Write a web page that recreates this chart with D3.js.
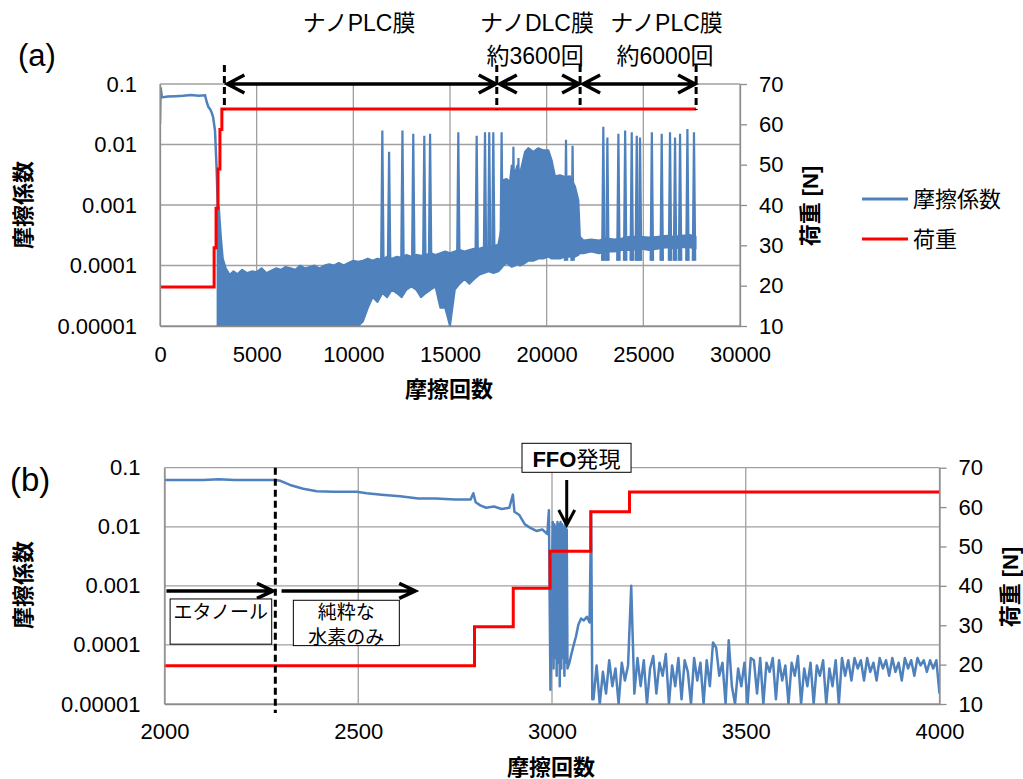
<!DOCTYPE html>
<html>
<head>
<meta charset="utf-8">
<script src="https://cdn.jsdelivr.net/npm/d3@7"></script>
<style>
body { margin: 0; background: #fff; }
text { font-family: "Liberation Sans", Arial, "Noto Sans CJK JP", sans-serif; fill: #000; }
</style>
</head>
<body>
<div id="chart"></div>
<script>
// ---- data ----
// shared axes
var muTicks = [0.00001, 0.0001, 0.001, 0.01, 0.1];
var muTickLabels = ["0.00001", "0.0001", "0.001", "0.01", "0.1"];
var loadTicks = [10, 20, 30, 40, 50, 60, 70];

// (a) whole test, cycles 0-30000
var aXTicks = [0, 5000, 10000, 15000, 20000, 25000, 30000];
// smooth start of the friction trace [cycles, mu]
var aHead = [[0, 0.022], [30, 0.088], [100, 0.06], [400, 0.062], [800, 0.063], [1200, 0.064], [1600, 0.066],
  [2000, 0.064], [2330, 0.065], [2420, 0.05], [2500, 0.042], [2600, 0.038], [2670, 0.034], [2750, 0.028],
  [2845, 0.017], [2930, 0.0038], [2980, 0.0012], [3020, 0.0003], [3050, 0.0001]];
// noisy part drawn as a band [cycles, low mu, high mu]
var aBand = [[2980, 1e-5, 0.001], [3050, 1e-5, 0.0009], [3150, 1e-5, 0.0003], [3250, 1e-5, 0.00013],
  [3400, 1e-5, 0.00009], [3600, 1e-5, 0.00007], [3800, 1e-5, 0.00008], [4000, 1e-5, 0.000072],
  [4250, 1e-5, 0.000085], [4500, 1e-5, 0.000075], [4750, 1e-5, 0.00008], [5000, 1e-5, 0.000078],
  [5250, 1e-5, 0.00009], [5500, 1e-5, 0.000075], [5750, 1e-5, 0.000082], [6000, 1e-5, 0.00009],
  [6250, 1e-5, 0.000085], [6500, 1e-5, 0.000095], [6750, 1e-5, 0.00009], [7000, 1e-5, 0.000085],
  [7250, 1e-5, 0.0001], [7500, 1e-5, 0.00009], [7750, 1e-5, 0.000095], [8000, 1e-5, 0.0001],
  [8250, 1e-5, 0.00009], [8500, 1e-5, 0.0001], [8750, 1e-5, 0.000105], [9000, 1e-5, 0.0001],
  [9250, 1e-5, 0.00011], [9500, 1e-5, 0.0001], [9750, 1e-5, 0.00011], [10000, 1e-5, 0.00012],
  [10250, 1e-5, 0.000115], [10500, 1.2e-5, 0.00012], [10750, 2e-5, 0.00013], [11000, 3e-5, 0.00012],
  [11250, 2.5e-5, 0.00013], [11500, 3.5e-5, 0.000125], [11750, 3e-5, 0.00014], [12000, 4e-5, 0.00013],
  [12250, 3.5e-5, 0.00014], [12500, 3e-5, 0.000135], [12750, 4e-5, 0.00015], [13000, 4.5e-5, 0.00014],
  [13250, 4e-5, 0.00015], [13500, 3e-5, 0.000145], [13750, 3.5e-5, 0.00015], [14000, 4e-5, 0.00016],
  [14250, 4.5e-5, 0.00015], [14500, 2e-5, 0.00016], [14750, 2e-5, 0.00017], [15000, 1e-5, 0.00016],
  [15250, 4e-5, 0.00017], [15500, 5e-5, 0.00018], [15750, 6e-5, 0.00017], [16000, 5e-5, 0.00018],
  [16250, 6e-5, 0.00019], [16500, 7e-5, 0.00019], [16750, 7.5e-5, 0.0002], [17000, 8e-5, 0.0002],
  [17250, 7.5e-5, 0.00021], [17500, 8e-5, 0.00022], [17650, 9e-5, 0.0004], [17760, 0.0001, 0.0026],
  [17930, 0.00011, 0.0027], [18100, 0.0001, 0.0024], [18190, 0.000095, 0.0045], [18360, 0.0001, 0.0033],
  [18480, 0.000105, 0.0045], [18620, 0.0001, 0.0033], [18880, 0.00011, 0.0076], [19050, 0.00012, 0.0087],
  [19310, 0.00012, 0.0076], [19570, 0.00013, 0.0087], [19830, 0.00013, 0.008], [20090, 0.00014, 0.008],
  [20260, 0.00013, 0.0055], [20430, 0.00013, 0.003], [20690, 0.00013, 0.0031], [20950, 0.00014, 0.0029],
  [21210, 0.00014, 0.003], [21470, 0.00014, 0.002], [21640, 0.00015, 0.0012], [21720, 0.00016, 0.0003],
  [21900, 0.00016, 0.00026], [22300, 0.00017, 0.00027], [22700, 0.00016, 0.00026], [23100, 0.00017, 0.00028],
  [23500, 0.00017, 0.00027], [23900, 0.00018, 0.00028], [24300, 0.00018, 0.0003], [24830, 0.00019, 0.0003],
  [25300, 0.00018, 0.00029], [25800, 0.00019, 0.0003], [26200, 0.0002, 0.00031], [26550, 0.00019, 0.0003],
  [27000, 0.0002, 0.00031], [27400, 0.0002, 0.00032], [27700, 0.00019, 0.0003]];
// isolated friction spikes [cycles, peak mu]
var aSpikes = [[11500, 0.017], [11850, 0.0076], [12540, 0.017], [13100, 0.015], [13670, 0.014], [13970, 0.015],
  [15430, 0.016], [16380, 0.014], [16810, 0.016], [17030, 0.016], [17240, 0.016], [17670, 0.016],
  [18280, 0.0092], [18540, 0.006], [21000, 0.012], [21340, 0.0095], [22930, 0.0197], [23140, 0.013],
  [23710, 0.015], [24060, 0.017], [24400, 0.016], [24660, 0.014], [24830, 0.013], [25440, 0.016],
  [25950, 0.015], [26380, 0.016], [26640, 0.013], [26900, 0.015], [27280, 0.018], [27620, 0.016]];
// load steps [cycles, N]
var aLoad = [[0, 19.7], [2800, 29.4], [2900, 39.2], [3000, 48.9], [3100, 58.7], [3200, 63.8], [27730, 63.8]];
// film boundaries (dashed lines) and labels, label centres in cycles
var aBounds = [3330, 17420, 21730, 27730];
var aFilmLabels = ["ナノPLC膜", "ナノDLC膜", "ナノPLC膜"];
var aFilmLabelAt = [10300, 19500, 26200];
var aCountLabels = ["約3600回", "約6000回"];
var aCountLabelAt = [19400, 26120];

// (b) zoom on 2000-4000 cycles
var bXTicks = [2000, 2500, 3000, 3500, 4000];
var bHead = [[2000, 0.062], [2100, 0.062], [2140, 0.064], [2180, 0.062], [2286, 0.062], [2299, 0.06],
  [2324, 0.051], [2358, 0.044], [2393, 0.040], [2436, 0.039], [2496, 0.039], [2522, 0.037], [2560, 0.035],
  [2608, 0.033], [2655, 0.030], [2700, 0.030], [2750, 0.029], [2790, 0.029], [2797, 0.037], [2803, 0.026],
  [2815, 0.023], [2830, 0.021], [2850, 0.022], [2870, 0.020], [2890, 0.021], [2899, 0.035], [2903, 0.018],
  [2915, 0.016], [2930, 0.011], [2945, 0.0095], [2960, 0.0085], [2975, 0.009], [2988, 0.0075], [2992, 0.019],
  [2996, 0.0000175], [2999, 0.0004], [3002, 0.012], [3004, 0.00004], [3006, 0.011], [3008, 0.00006],
  [3010, 0.01], [3012, 0.00003], [3014, 0.012], [3016, 0.00005], [3018, 0.011], [3020, 0.00002],
  [3022, 0.012], [3024, 0.00004], [3026, 0.011], [3028, 0.00006], [3030, 0.01], [3032, 0.00003],
  [3034, 0.011], [3036, 0.00005], [3038, 0.009], [3040, 0.00004], [3045, 0.00005], [3050, 0.00007],
  [3056, 0.0001], [3062, 0.00014], [3068, 0.00022], [3075, 0.00028], [3082, 0.00026], [3090, 0.0003],
  [3097, 0.00024], [3101, 0.018], [3104, 0.000012]];
// after 3107 cycles the trace is sampled evenly up to 4000
var bNoiseStart = 3107, bNoiseEnd = 4000;
var bNoise = [1.2e-5, 4.5e-5, 1.0e-5, 3.5e-5, 1.5e-5, 5.5e-5, 2.0e-5, 4.0e-5, 1.0e-5, 5.0e-5, 2.5e-5, 4.5e-5,
  1.0e-3,
  1.5e-5, 6.0e-5, 2.0e-5, 5.5e-5, 1.0e-5, 4.0e-5, 6.5e-5, 1.5e-5, 5.0e-5, 3.0e-5, 7.0e-5, 1.0e-5, 4.5e-5,
  2.0e-5, 6.0e-5, 1.2e-5, 5.5e-5, 3.5e-5, 1.0e-5, 6.0e-5, 2.5e-5, 5.0e-5,
  1.0e-5, 5.5e-5, 2.0e-5, 1.1e-4, 9.0e-5, 3.0e-5, 5.0e-5, 1.0e-5, 1.2e-4, 2.0e-5,
  1.0e-5, 4.0e-5, 2.0e-5, 5.0e-5, 1.0e-5, 6.0e-5, 5.5e-5, 1.5e-5, 6.0e-5, 1.0e-5, 5.0e-5, 3.5e-5, 6.0e-5,
  1.2e-5, 5.5e-5, 2.5e-5, 4.5e-5,
  1.0e-5, 5.0e-5, 3.0e-5, 6.5e-5, 1.0e-5, 4.0e-5, 2.0e-5, 5.0e-5, 1.0e-5, 4.5e-5, 3.0e-5, 5.5e-5, 1.0e-5,
  4.0e-5, 2.0e-5, 5.5e-5, 1.0e-5,
  6.0e-5, 3.0e-5, 5.5e-5, 2.5e-5, 6.0e-5, 4.0e-5, 5.5e-5, 2.5e-5, 6.0e-5, 3.5e-5, 5.0e-5, 2.5e-5, 6.0e-5,
  4.0e-5, 5.5e-5, 3.0e-5, 6.0e-5, 3.5e-5, 5.0e-5, 2.5e-5, 6.0e-5, 4.0e-5, 5.5e-5, 3.0e-5, 6.0e-5, 4.5e-5,
  5.5e-5, 3.5e-5, 5.5e-5, 4.0e-5, 5.5e-5, 1.5e-5];
var bLoad = [[2000, 19.7], [2800, 29.6], [2900, 39.4], [2995, 48.8], [3100, 58.8], [3200, 63.8], [4000, 63.8]];
var bSwitch = 2286; // ethanol -> pure hydrogen

var blue = "#4f81bd", red = "#ff0000", gridColor = "#a0a0a0", axisColor = "#8c8c8c";
var font = 22;

var svg = d3.select("#chart").append("svg")
  .attr("width", 1023)
  .attr("height", 779);
svg.append("rect").attr("width", 1023).attr("height", 779).attr("fill", "#fff");

// builds one panel: grid, clip; returns the scales
function makePanel(id, box, xDomain, xTicks) {
  var x = d3.scaleLinear().domain(xDomain).range([box.left, box.right]);
  var y = d3.scaleLog().domain([1e-5, 0.1]).range([box.bottom, box.top]);
  var yR = d3.scaleLinear().domain([10, 70]).range([box.bottom, box.top]);

  svg.append("clipPath").attr("id", id)
    .append("rect")
    .attr("x", box.left).attr("y", box.top)
    .attr("width", box.right - box.left).attr("height", box.bottom - box.top);

  // grid
  svg.append("g").selectAll("line").data(muTicks).enter().append("line")
    .attr("x1", box.left).attr("x2", box.right)
    .attr("y1", d => y(d)).attr("y2", d => y(d))
    .attr("stroke", gridColor).attr("stroke-width", 1.3);
  svg.append("g").selectAll("line").data(xTicks).enter().append("line")
    .attr("x1", d => x(d)).attr("x2", d => x(d))
    .attr("y1", box.top).attr("y2", box.bottom)
    .attr("stroke", gridColor).attr("stroke-width", 1.3);

  return { x: x, y: y, yR: yR, box: box, id: id, xTicks: xTicks };
}

function styleAxis(g) {
  g.select(".domain").attr("stroke", axisColor).attr("stroke-width", 1.3);
  g.selectAll(".tick line").attr("stroke", axisColor).attr("stroke-width", 1.3);
  g.selectAll("text").attr("font-size", font).attr("font-family", null);
}

function drawAxes(p, leftPad, bottomPad) {
  var b = p.box;
  svg.append("g").attr("transform", `translate(${b.left},0)`)
    .call(d3.axisLeft(p.y).tickValues(muTicks).tickFormat((d, i) => muTickLabels[i])
      .tickSize(0).tickSizeOuter(0).tickPadding(leftPad))
    .call(styleAxis);
  svg.append("g").attr("transform", `translate(0,${b.bottom})`)
    .call(d3.axisBottom(p.x).tickValues(p.xTicks).tickFormat(d3.format("d"))
      .tickSize(0).tickSizeOuter(0).tickPadding(bottomPad))
    .call(styleAxis);
  svg.append("g").attr("transform", `translate(${b.right},0)`)
    .call(d3.axisRight(p.yR).tickValues(loadTicks)
      .tickSize(7).tickSizeOuter(0).tickPadding(12))
    .call(styleAxis);
}

function vTitle(txt, cx, cy) {
  svg.append("text")
    .attr("transform", `translate(${cx},${cy}) rotate(-90)`)
    .attr("text-anchor", "middle")
    .attr("dominant-baseline", "central")
    .attr("font-size", font).attr("font-weight", "bold")
    .text(txt);
}

function hText(txt, cx, cy, size, weight) {
  return svg.append("text")
    .attr("x", cx).attr("y", cy)
    .attr("text-anchor", "middle")
    .attr("dominant-baseline", "central")
    .attr("font-size", size).attr("font-weight", weight || "normal")
    .text(txt);
}

// horizontal arrow with open chevron heads
function arrowH(x1, x2, y, headLeft, headRight, len, half) {
  var d = `M${x1},${y}L${x2},${y}`;
  if (headRight) d += `M${x2 - len},${y - half}L${x2},${y}L${x2 - len},${y + half}`;
  if (headLeft) d += `M${x1 + len},${y - half}L${x1},${y}L${x1 + len},${y + half}`;
  svg.append("path").attr("d", d).attr("fill", "none")
    .attr("stroke", "#000").attr("stroke-width", 3.5);
}

var muLine = p => d3.line().x(d => p.x(d[0])).y(d => p.y(d[1]));
var loadLine = p => d3.line().curve(d3.curveStepAfter).x(d => p.x(d[0])).y(d => p.yR(d[1]));

// ================= panel (a) =================
var pa = makePanel("clipA", { left: 160, right: 740, top: 84, bottom: 326 }, [0, 30000], aXTicks);
var gA = svg.append("g").attr("clip-path", "url(#clipA)");

gA.append("path").datum(aBand)
  .attr("d", d3.area().x(d => pa.x(d[0])).y0(d => pa.y(d[1])).y1(d => pa.y(d[2])))
  .attr("fill", blue).attr("stroke", blue).attr("stroke-width", 2).attr("stroke-linejoin", "round");
gA.append("path").datum(aHead)
  .attr("d", muLine(pa))
  .attr("fill", "none").attr("stroke", blue).attr("stroke-width", 2.5);
gA.selectAll(".spk").data(aSpikes).enter().append("path")
  .attr("d", d => `M${pa.x(d[0]) - 1.2},${pa.y(0.00012)}L${pa.x(d[0])},${pa.y(d[1])}L${pa.x(d[0]) + 1.2},${pa.y(0.00012)}`)
  .attr("fill", blue).attr("stroke", blue).attr("stroke-width", 2.2);

svg.append("path").datum(aLoad)
  .attr("d", loadLine(pa))
  .attr("fill", "none").attr("stroke", red).attr("stroke-width", 3);

drawAxes(pa, 23, 20);

// film boundaries with arrows on the 0.1 line
aBounds.forEach(function (c) {
  svg.append("line")
    .attr("x1", pa.x(c)).attr("x2", pa.x(c))
    .attr("y1", pa.box.top - 19).attr("y2", pa.yR(63.8) + 1)
    .attr("stroke", "#000").attr("stroke-width", 3).attr("stroke-dasharray", "7,4");
});
for (var i = 0; i < aBounds.length - 1; i++) {
  arrowH(pa.x(aBounds[i]) + 3, pa.x(aBounds[i + 1]) - 1, pa.y(0.1), true, true, 17, 9);
}
aFilmLabels.forEach((t, i) => hText(t, pa.x(aFilmLabelAt[i]), 23, 23));
aCountLabels.forEach((t, i) => hText(t, pa.x(aCountLabelAt[i]), 56, 23));

vTitle("摩擦係数", 23, 205);
vTitle("荷重 [N]", 810, 206);
hText("摩擦回数", 449, 389, font, "bold");
svg.append("text").attr("x", 18).attr("y", 66).attr("font-size", 31).text("(a)");

// legend
[["摩擦係数", blue, 199], ["荷重", red, 239]].forEach(function (l) {
  svg.append("line").attr("x1", 862).attr("x2", 908).attr("y1", l[2]).attr("y2", l[2])
    .attr("stroke", l[1]).attr("stroke-width", 3);
  svg.append("text").attr("x", 913).attr("y", l[2]).attr("dominant-baseline", "central")
    .attr("font-size", font).text(l[0]);
});

// ================= panel (b) =================
var pb = makePanel("clipB", { left: 164.5, right: 939.5, top: 467.7, bottom: 704 }, [2000, 4000], bXTicks);
var gB = svg.append("g").attr("clip-path", "url(#clipB)");

var bStep = (bNoiseEnd - bNoiseStart) / (bNoise.length - 1);
var bTrace = bHead.concat(bNoise.map((v, i) => [bNoiseStart + i * bStep, v]));
gB.append("path").datum(bTrace)
  .attr("d", muLine(pb))
  .attr("fill", "none").attr("stroke", blue).attr("stroke-width", 2.5).attr("stroke-linejoin", "round");

svg.append("path").datum(bLoad)
  .attr("d", loadLine(pb))
  .attr("fill", "none").attr("stroke", red).attr("stroke-width", 3);

drawAxes(pb, 24, 19);

svg.append("line")
  .attr("x1", pb.x(bSwitch)).attr("x2", pb.x(bSwitch))
  .attr("y1", pb.box.top).attr("y2", pb.box.bottom + 9)
  .attr("stroke", "#000").attr("stroke-width", 3).attr("stroke-dasharray", "7,4");

// gas phase arrows and boxes
arrowH(pb.x(2005), pb.x(2280), pb.y(0.00082), false, true, 16, 7.5);
arrowH(pb.x(2302), pb.x(2647), pb.y(0.00082), false, true, 16, 7.5);

svg.append("rect").attr("x", pb.x(2014.5)).attr("y", pb.y(0.0006))
  .attr("width", pb.x(2276.7) - pb.x(2014.5)).attr("height", pb.y(0.000103) - pb.y(0.0006))
  .attr("fill", "#fff").attr("stroke", "#000").attr("stroke-width", 1);
hText("エタノール", pb.x(2145), 612, 19);
svg.append("rect").attr("x", pb.x(2332.5)).attr("y", pb.y(0.00057))
  .attr("width", pb.x(2606) - pb.x(2332.5)).attr("height", pb.y(0.0000973) - pb.y(0.00057))
  .attr("fill", "#fff").attr("stroke", "#000").attr("stroke-width", 1);
hText("純粋な", pb.x(2469), 612, 19);
hText("水素のみ", pb.x(2469), 637, 19);

// FFO onset marker
svg.append("rect").attr("x", pb.x(2922.6)).attr("y", 443.3)
  .attr("width", pb.x(3204) - pb.x(2922.6)).attr("height", 29)
  .attr("fill", "#fff").attr("stroke", "#000").attr("stroke-width", 1);
var ffo = svg.append("text").attr("x", pb.x(3063)).attr("y", 459)
  .attr("text-anchor", "middle").attr("dominant-baseline", "central").attr("font-size", font);
ffo.append("tspan").attr("font-weight", "bold").text("FFO");
ffo.append("tspan").text("発現");
var ax = pb.x(3038), ay1 = pb.y(0.062), ay2 = pb.y(0.0107);
svg.append("path")
  .attr("d", `M${ax},${ay1}L${ax},${ay2}M${ax - 8},${ay2 - 15}L${ax},${ay2}L${ax + 8},${ay2 - 15}`)
  .attr("fill", "none").attr("stroke", "#000").attr("stroke-width", 3);

vTitle("摩擦係数", 23, 585);
vTitle("荷重 [N]", 1010, 587);
hText("摩擦回数", 551, 767, font, "bold");
svg.append("text").attr("x", 10).attr("y", 491).attr("font-size", 33).text("(b)");
</script>
</body>
</html>
